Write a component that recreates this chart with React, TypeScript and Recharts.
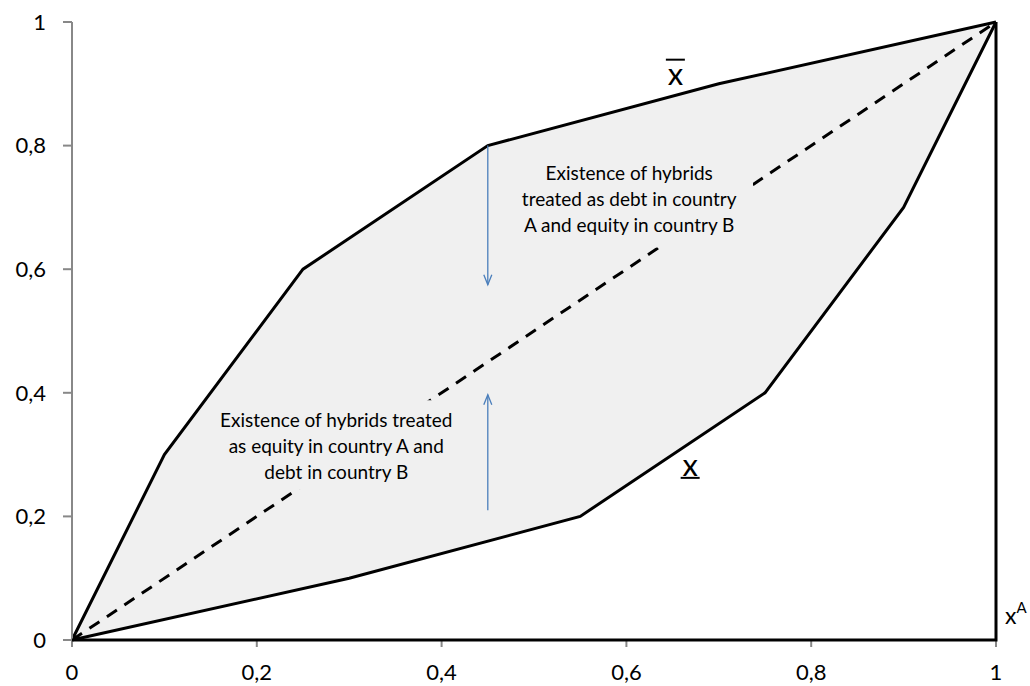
import React from 'react';
import {
  ComposedChart, Area, Line, XAxis, YAxis, ReferenceArea, ReferenceDot,
} from 'recharts';

// Upper boundary (x̄)
const upperX = [0, 0.1, 0.25, 0.45, 0.7, 1];
const upperY = [0, 0.3, 0.6, 0.8, 0.9, 1];
// Lower boundary (x̲)
const lowerX = [0, 0.3, 0.55, 0.75, 0.9, 1];
const lowerY = [0, 0.1, 0.2, 0.4, 0.7, 1];
// 45° diagonal
const diagX = [0, 1];
const diagY = [0, 1];
// Frame: bottom edge and right vertical at x = 1
const frameX = [0, 1, 1];
const frameY = [0, 0, 1];
// Arrows (from -> to)
const arrowDownX = [0.45, 0.45];
const arrowDownY = [0.8, 0.575];
const arrowUpX = [0.45, 0.45];
const arrowUpY = [0.21, 0.397];

const ticks = [0, 0.2, 0.4, 0.6, 0.8, 1];

const upperText = ['Existence of hybrids', 'treated as debt in country', 'A and equity in country B'];
const lowerText = ['Existence of hybrids treated', 'as equity in country A and', 'debt in country B'];

const zip = (xs: number[], ys: number[]) => xs.map((x, i) => ({ x, y: ys[i] }));

const upperData = zip(upperX, upperY);
const lowerData = zip(lowerX, lowerY);
const diagData = zip(diagX, diagY);
const frameData = zip(frameX, frameY);
const downData = zip(arrowDownX, arrowDownY);
const upData = zip(arrowUpX, arrowUpY);

const FONT = 'Lato, "Open Sans", sans-serif';
const BLUE = '#4a7ebb';

const fmt = (v: number) => String(v).replace('.', ',');

const BoxText = (props: any) => {
  const vb = props.viewBox || {};
  const cx = vb.x + vb.width / 2;
  const cy = vb.y + vb.height / 2;
  const lines: string[] = props.lines;
  const lh = 26;
  const start = cy - ((lines.length - 1) * lh) / 2;
  return (
    <g>
      {lines.map((l, i) => (
        <text key={i} x={cx} y={start + i * lh} textAnchor="middle" dominantBaseline="central"
          fontFamily={FONT} fontSize={19} fill="#000">{l}</text>
      ))}
    </g>
  );
};

const arrowHead = (dir: 'up' | 'down') => (p: any) => {
  if (p.index !== 1) return <g key={p.index} />;
  const { cx, cy } = p;
  const s = dir === 'down' ? -1 : 1;
  return (
    <path key={p.index} d={`M${cx - 4},${cy + s * 10} L${cx},${cy} L${cx + 4},${cy + s * 10}`}
      fill="none" stroke={BLUE} strokeWidth={1.3} />
  );
};

const BarLabel = (props: any) => {
  const vb = props.viewBox || {};
  const cx = vb.x + vb.width / 2;
  const cy = vb.y + vb.height / 2;
  const under = props.under;
  return (
    <g>
      <text x={cx} y={cy} textAnchor="middle" dominantBaseline="central" fontFamily={FONT} fontSize={31} fill="#000">x</text>
      <line x1={cx - 9.5} x2={cx + 9.5} y1={under ? cy + 14 : cy - 13} y2={under ? cy + 14 : cy - 13} stroke="#000" strokeWidth={2} />
    </g>
  );
};

const XALabel = (props: any) => {
  const vb = props.viewBox || {};
  const x = vb.x + vb.width / 2 + 9;
  const y = vb.y + vb.height / 2;
  return (
    <text x={x} y={y} fontFamily={FONT} fill="#000">
      <tspan fontSize={23} dominantBaseline="central">x</tspan>
      <tspan fontSize={15} dy={-2}>A</tspan>
    </text>
  );
};

export default function App() {
  return (
    <div style={{ position: 'absolute', left: 0, top: 0, width: 1030, height: 686, background: '#fff' }}>
      <ComposedChart width={1030} height={686} margin={{ top: 22, right: 34, bottom: 2, left: 12 }}>
        <XAxis type="number" dataKey="x" domain={[0, 1]} ticks={ticks} tickFormatter={fmt}
          axisLine={{ stroke: '#888', strokeWidth: 2 }} tickLine={{ stroke: '#888', strokeWidth: 2 }}
          tickSize={7} tickMargin={17} height={44} allowDuplicatedCategory={false}
          tick={{ fill: '#000', fontSize: 22, fontFamily: FONT }} />
        <YAxis type="number" dataKey="y" domain={[0, 1]} ticks={ticks} tickFormatter={fmt} width={60}
          axisLine={{ stroke: '#888', strokeWidth: 2 }} tickLine={{ stroke: '#888', strokeWidth: 2 }}
          tickSize={9} tickMargin={17}
          tick={{ fill: '#000', fontSize: 22, fontFamily: FONT }} />
        <Area data={upperData} dataKey="y" type="linear" stroke="none" fill="#f0f0f0" fillOpacity={1} isAnimationActive={false} zIndex={10} />
        <Area data={lowerData} dataKey="y" type="linear" stroke="none" fill="#ffffff" fillOpacity={1} isAnimationActive={false} zIndex={20} />
        <Line data={diagData} dataKey="y" type="linear" stroke="#000" strokeWidth={3} strokeDasharray="12 9" dot={false} isAnimationActive={false} zIndex={30} />
        <ReferenceArea x1={0.469} x2={0.737} y1={0.635} y2={0.793} fill="#f0f0f0" fillOpacity={1} stroke="none" zIndex={40}
          label={<BoxText lines={upperText} />} />
        <ReferenceArea x1={0.15} x2={0.422} y1={0.243} y2={0.388} fill="#f0f0f0" fillOpacity={1} stroke="none" zIndex={40}
          label={<BoxText lines={lowerText} />} />
        <Line data={upperData} dataKey="y" type="linear" stroke="#000" strokeWidth={3} dot={false} isAnimationActive={false} />
        <Line data={lowerData} dataKey="y" type="linear" stroke="#000" strokeWidth={3} dot={false} isAnimationActive={false} />
        <Line data={frameData} dataKey="y" type="linear" stroke="#000" strokeWidth={3} dot={false} isAnimationActive={false} zIndex={600} />
        <Line data={downData} dataKey="y" type="linear" stroke={BLUE} strokeWidth={1.3} dot={arrowHead('down')} isAnimationActive={false} />
        <Line data={upData} dataKey="y" type="linear" stroke={BLUE} strokeWidth={1.3} dot={arrowHead('up')} isAnimationActive={false} />
        <ReferenceDot x={0.653} y={0.918} r={1} fill="none" stroke="none" label={<BarLabel />} />
        <ReferenceDot x={0.669} y={0.285} r={1} fill="none" stroke="none" label={<BarLabel under />} />
        <ReferenceDot x={1} y={0.04} r={1} fill="none" stroke="none" label={<XALabel />} />
      </ComposedChart>
    </div>
  );
}
